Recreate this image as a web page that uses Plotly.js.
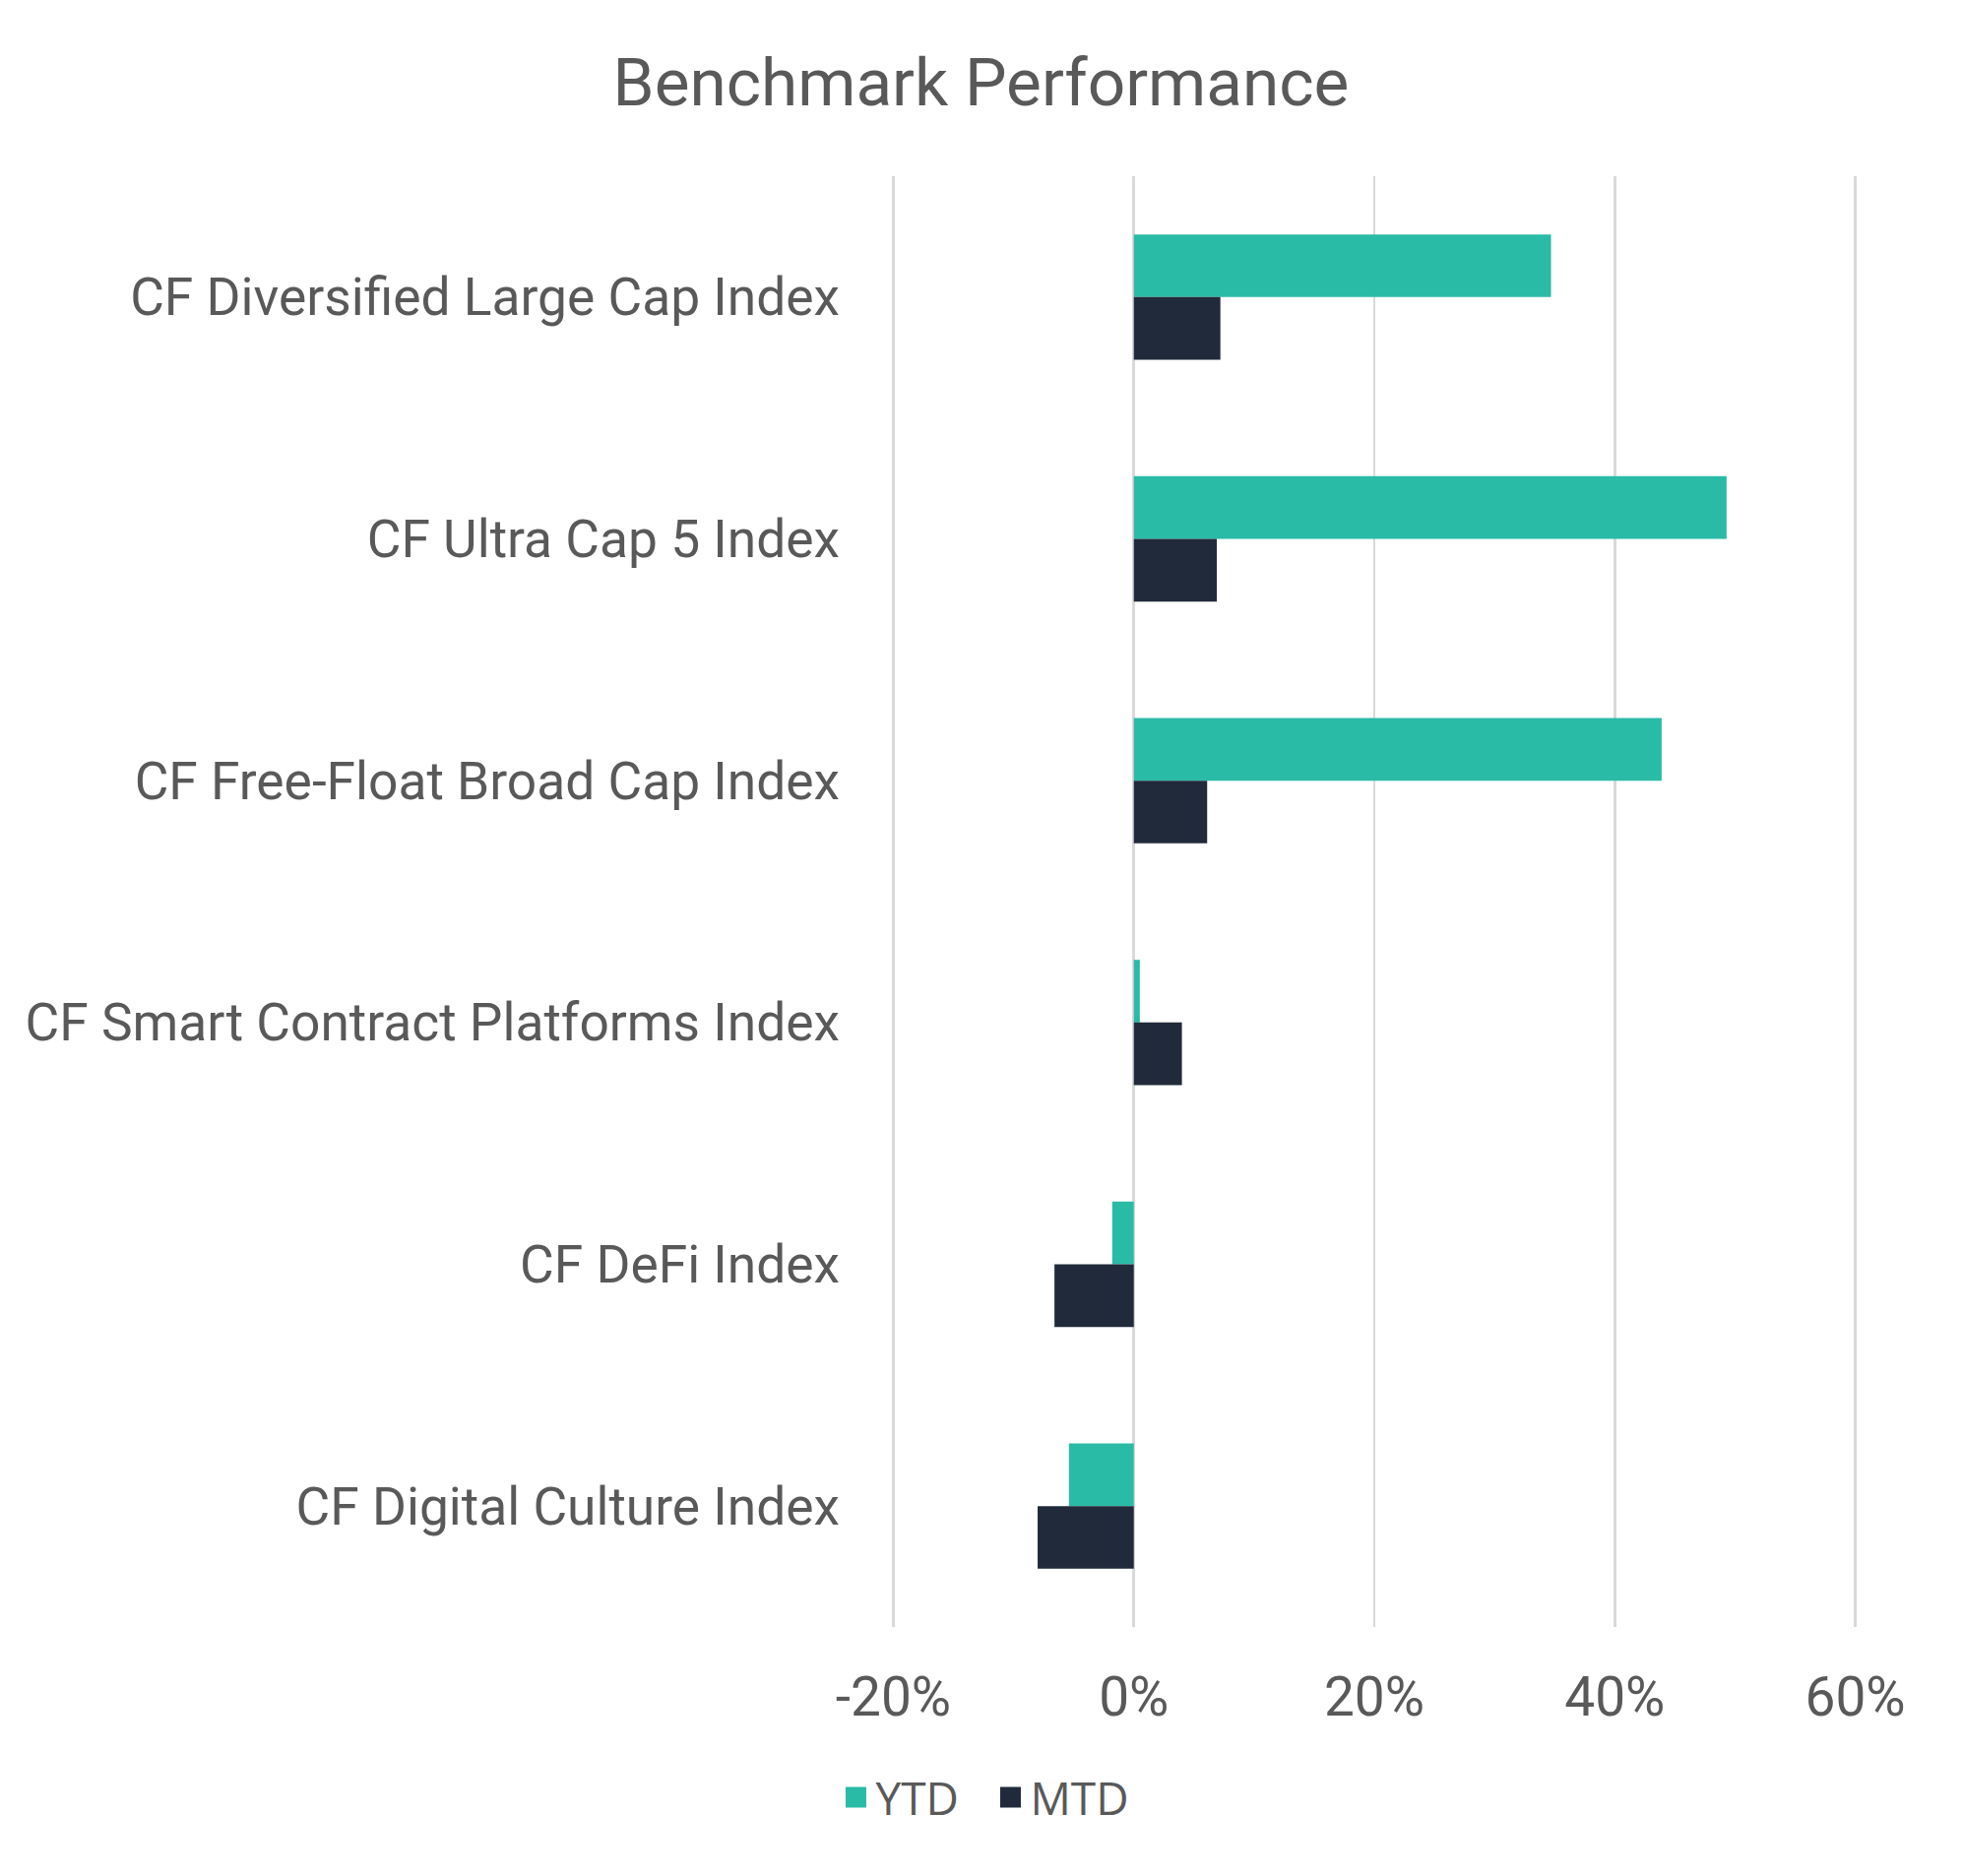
<!DOCTYPE html>
<html>
<head>
<meta charset="utf-8">
<script src="https://cdn.plot.ly/plotly-3.0.1.min.js"></script>
<style>html,body{margin:0;padding:0;background:#fff;}#chart{width:1993px;height:1906px;}</style>
</head>
<body>
<div id="chart"></div>
<script>
const categories = [
  "CF Diversified Large Cap Index",
  "CF Ultra Cap 5 Index",
  "CF Free-Float Broad Cap Index",
  "CF Smart Contract Platforms Index",
  "CF DeFi Index",
  "CF Digital Culture Index"
];
const ytdValues = [0.347, 0.493, 0.439, 0.005, -0.018, -0.054];
const mtdValues = [0.072, 0.069, 0.061, 0.040, -0.066, -0.080];
const xTickValues = [-0.2, 0, 0.2, 0.4, 0.6];
const xTickLabels = ["-20%", "0%", "20%", "40%", "60%"];
const seriesNames = ["YTD", "MTD"];
const seriesColors = ["#2ABBA7", "#212A3A"];

const FONT = "Roboto, 'Open Sans', sans-serif";
const LEGFONT = "'Open Sans', Roboto, sans-serif";
const TXT = "#595959";

const traces = [
  {type: "bar", orientation: "h", name: seriesNames[0], y: categories, x: ytdValues,
   marker: {color: seriesColors[0]}, showlegend: false},
  {type: "bar", orientation: "h", name: seriesNames[1], y: categories, x: mtdValues,
   marker: {color: seriesColors[1]}, showlegend: false}
];
// legend-only entries (same series, larger square swatches)
seriesNames.forEach((n, i) => {
  traces.push({type: "scatter", mode: "markers", name: n, x: [null], y: [null],
    marker: {symbol: "square", size: 16, color: seriesColors[i], line: {color: seriesColors[i], width: 5}},
    showlegend: true, hoverinfo: "skip"});
});

const layout = {
  width: 1993, height: 1906,
  paper_bgcolor: "#fff", plot_bgcolor: "#fff",
  font: {family: FONT, color: TXT, size: 48},
  title: {text: "Benchmark Performance", font: {family: FONT, size: 67.5, color: TXT},
          x: 0.5, xanchor: "center", y: 1 - 83/1906, yanchor: "middle", xref: "container", yref: "container"},
  margin: {l: 906, r: 107, t: 179, b: 253, pad: 0},
  barmode: "group", bargap: 0.482, bargroupgap: 0,
  xaxis: {range: [-0.2012, 0.6012], tickvals: xTickValues, ticktext: xTickLabels,
          showgrid: true, gridcolor: "#D9D9D9", gridwidth: 2.5, zeroline: false,
          showline: false, ticks: "", ticklabelstandoff: 34,
          tickfont: {family: FONT, size: 55, color: TXT}, fixedrange: true},
  yaxis: {type: "category", autorange: "reversed", showgrid: false, zeroline: false,
          showline: false, ticks: "", ticklabelstandoff: 52,
          tickfont: {family: FONT, size: 53.3, color: TXT}, fixedrange: true},
  showlegend: true,
  legend: {orientation: "h", xref: "container", yref: "container", x: 0.505, xanchor: "center",
           y: 1 - 1826/1906, yanchor: "middle", font: {family: LEGFONT, size: 46, color: TXT},
           itemwidth: 30, entrywidth: 112, entrywidthmode: "pixels",
           tracegroupgap: 0, traceorder: "normal", itemsizing: "trace"}
};

Plotly.newPlot("chart", traces, layout, {displayModeBar: false, staticPlot: true});
</script>
</body>
</html>
